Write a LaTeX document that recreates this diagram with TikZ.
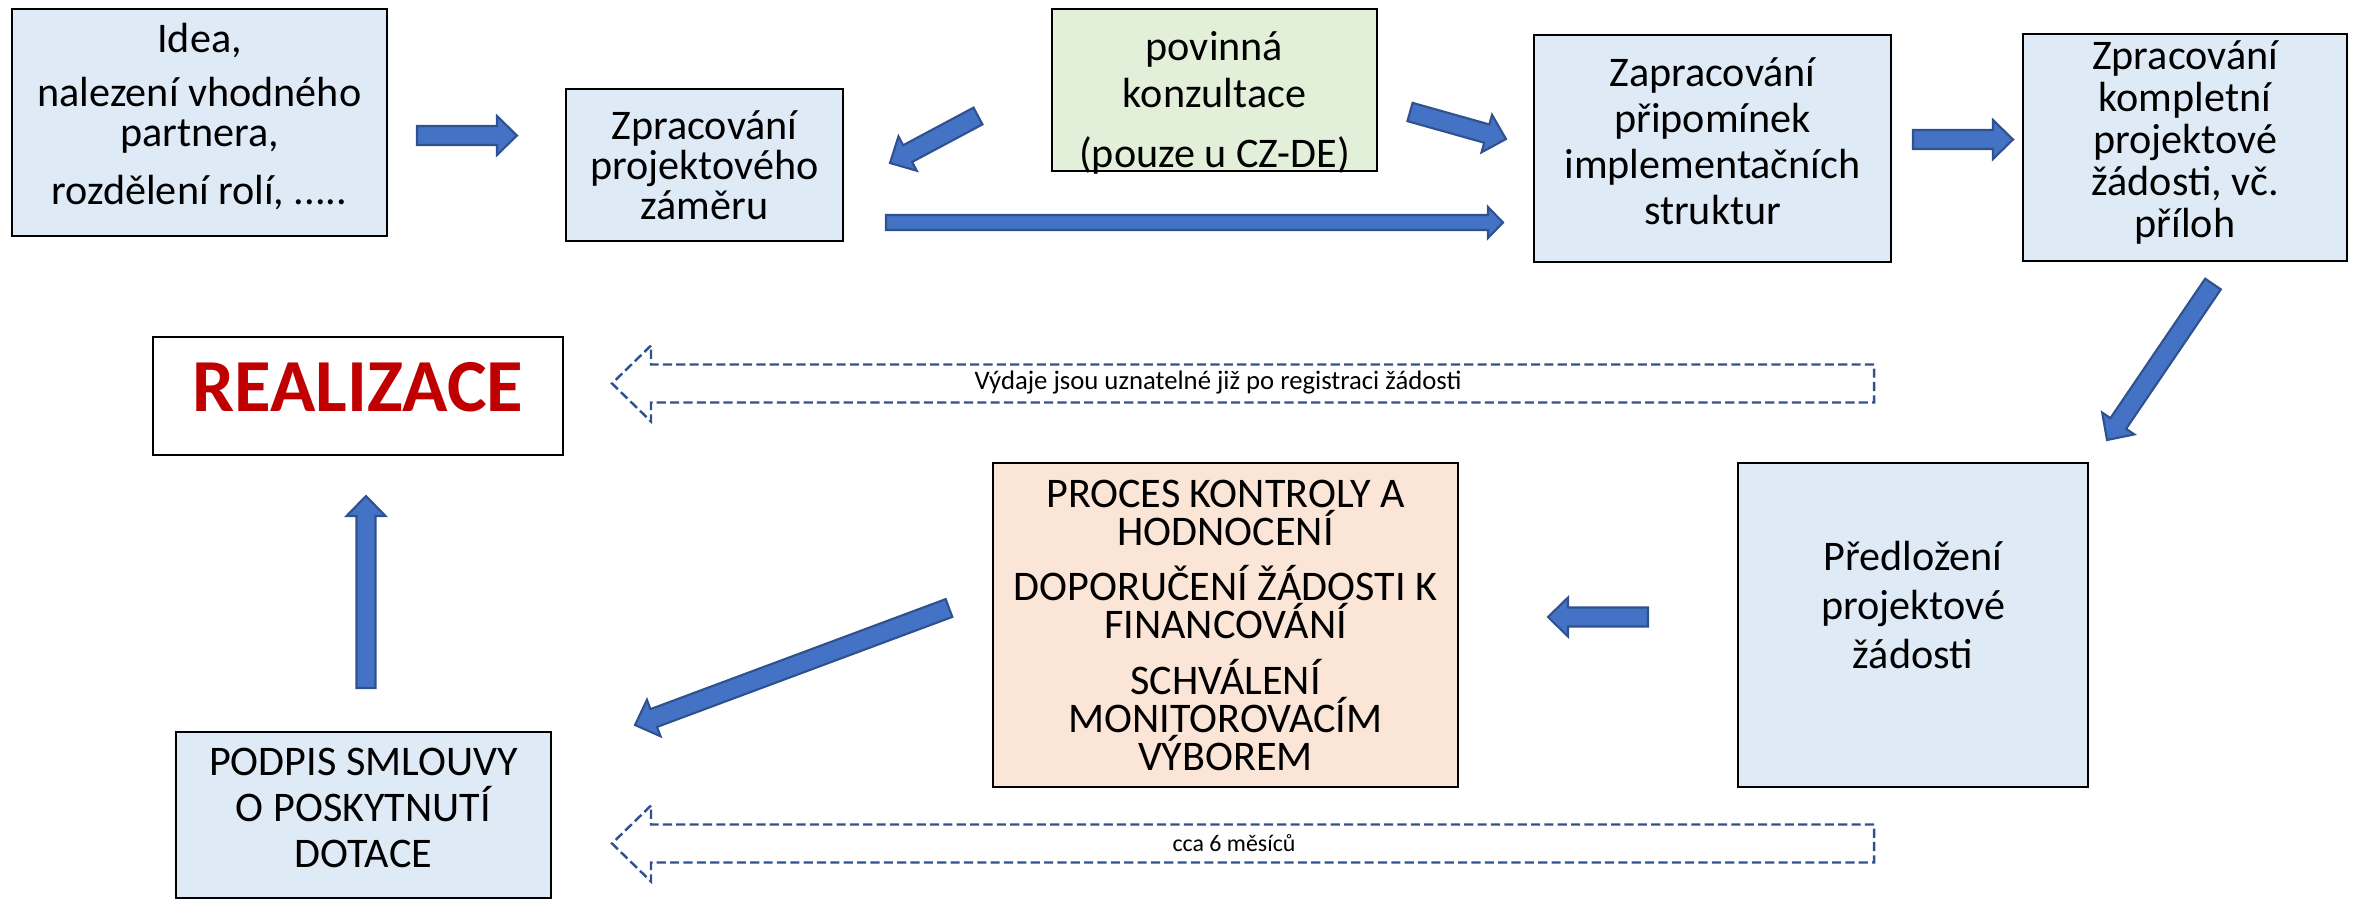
\documentclass[tikz,border=0pt]{standalone}
\usepackage{fontspec}
\setmainfont{Carlito}
\usetikzlibrary{calc,positioning}

\definecolor{boxblue}{HTML}{DEEBF7}
\definecolor{boxgreen}{HTML}{E2F0D9}
\definecolor{boxpeach}{HTML}{FBE5D6}
\definecolor{arrowblue}{HTML}{4472C4}
\definecolor{arrowedge}{HTML}{2F528F}
\definecolor{realred}{HTML}{C00000}

\tikzset{
  shaft half/.store in=\shaftw, shaft half=0.095cm,
  head half/.store in=\headw, head half=0.195cm,
  head len/.store in=\headl, head len=0.20cm,
}
% fat block arrow from #2 to #3 (named coordinates)
\newcommand{\BlockArrow}[3][]{%
  \begin{scope}[#1]
    \coordinate (hb) at ($(#3)!\headl!(#2)$);
    \draw[blockarrow] ($(#2)!\shaftw!90:(#3)$) -- ($(hb)!\shaftw!90:(#3)$)
      -- ($(hb)!\headw!90:(#3)$) -- (#3) -- ($(hb)!\headw!-90:(#3)$)
      -- ($(hb)!\shaftw!-90:(#3)$) -- ($(#2)!\shaftw!-90:(#3)$) -- cycle;
  \end{scope}}

\begin{document}
\begin{tikzpicture}[
    box/.style={draw=black, line width=0.8pt, fill=boxblue, align=center, inner sep=0pt,
      font=\fontsize{12}{11.4}\selectfont},
    blockarrow/.style={fill=arrowblue, draw=arrowedge, line width=0.6pt, line join=miter},
    dasharrow/.style={draw=arrowedge, line width=0.7pt, dash pattern=on 2.6pt off 1.2pt},
  ]
  \useasboundingbox (0,0) rectangle (23.56,9.02);

  % top row
  \node[box, minimum width=3.75cm, minimum height=2.27cm, text depth=0.17cm] (idea) at (1.995,7.795)
    {Idea,\\[4pt] nalezení vhodného\\ partnera,\\[5pt] rozdělení rolí, .....};
  \node[box, minimum width=2.77cm, minimum height=1.52cm] (zamer) at (7.045,7.37)
    {Zpracování\\ projektového\\ záměru};
  \node[box, fill=boxgreen, minimum width=3.25cm, minimum height=1.62cm,
    text depth=0cm, text height=44pt,
    font=\fontsize{12}{13.4}\selectfont] (konz) at (12.145,8.12)
    {povinná\\ konzultace\\[3.5pt] (pouze u CZ-DE)};
  \node[box, minimum width=3.57cm, minimum height=2.27cm, text depth=0.14cm,
    font=\fontsize{12}{13.1}\selectfont] (pripom) at (17.125,7.535)
    {Zapracování\\ připomínek\\ implementačních\\ struktur};
  \node[box, minimum width=3.24cm, minimum height=2.27cm, text depth=0.17cm,
    font=\fontsize{12}{11.9}\selectfont] (kompl) at (21.85,7.545)
    {Zpracování\\ kompletní\\ projektové\\ žádosti, vč.\\ příloh};

  % lower rows
  \node[box, fill=white, minimum width=4.10cm, minimum height=1.18cm, text depth=0.18cm,
    font=\fontsize{21.3}{25}\selectfont\bfseries, text=realred] (real) at (3.58,5.06)
    {REALIZACE};
  \node[box, fill=boxpeach, minimum width=4.65cm, minimum height=3.24cm,
    font=\fontsize{12}{10.8}\selectfont] (proces) at (12.255,2.77)
    {PROCES KONTROLY A\\ HODNOCENÍ\\[5pt] DOPORUČENÍ ŽÁDOSTI K\\ FINANCOVÁNÍ\\[5pt]
     SCHVÁLENÍ\\ MONITOROVACÍM\\ VÝBOREM};
  \node[box, minimum width=3.50cm, minimum height=3.24cm, text depth=0.40cm,
    font=\fontsize{12}{13.9}\selectfont] (predl) at (19.13,2.77)
    {Předložení\\ projektové\\ žádosti};
  \node[box, minimum width=3.75cm, minimum height=1.66cm, text depth=0.14cm,
    font=\fontsize{12}{13.1}\selectfont] (podpis) at (3.635,0.87)
    {PODPIS SMLOUVY\\ O POSKYTNUTÍ\\ DOTACE};

  % arrow ends
  \coordinate (idea-r) at (4.17,7.665);   \coordinate (zamer-l) at (5.17,7.665);
  \coordinate (konz-l) at (9.78,7.86);    \coordinate (zamer-r) at (8.90,7.39);
  \coordinate (zamer-b) at (8.86,6.795);  \coordinate (pripom-l) at (15.03,6.795);
  \coordinate (konz-r) at (14.10,7.90);   \coordinate (pripom-t) at (15.06,7.63);
  \coordinate (pripom-r) at (19.13,7.625); \coordinate (kompl-l) at (20.13,7.625);
  \coordinate (kompl-b) at (22.13,6.18);  \coordinate (predl-t) at (21.07,4.62);
  \coordinate (predl-l) at (16.48,2.85);  \coordinate (proces-r) at (15.48,2.85);
  \coordinate (proces-l) at (9.49,2.94);  \coordinate (podpis-r) at (6.35,1.77);
  \coordinate (podpis-t) at (3.66,2.14);  \coordinate (real-b) at (3.66,4.06);

  \BlockArrow{idea-r}{zamer-l}
  \BlockArrow{konz-l}{zamer-r}
  \BlockArrow[shaft half=0.075cm, head half=0.155cm, head len=0.15cm]{zamer-b}{pripom-l}
  \BlockArrow{konz-r}{pripom-t}
  \BlockArrow{pripom-r}{kompl-l}
  \BlockArrow{kompl-b}{predl-t}
  \BlockArrow{predl-l}{proces-r}
  \BlockArrow{proces-l}{podpis-r}
  \BlockArrow{podpis-t}{real-b}

  % dashed time arrows
  \foreach \yc in {5.185,0.585}
    \draw[dasharrow] (18.74,{\yc+0.19}) -- (6.51,{\yc+0.19}) -- (6.51,{\yc+0.38})
      -- (6.12,\yc) -- (6.51,{\yc-0.38}) -- (6.51,{\yc-0.19}) -- (18.74,{\yc-0.19}) -- cycle;
  \node[font=\fontsize{7.6}{9}\selectfont] (regnote) at (12.18,5.19)
    {Výdaje jsou uznatelné již po registraci žádosti};
  \node[font=\fontsize{6.8}{8}\selectfont] (timenote) at (12.34,0.59) {cca 6 měsíců};
\end{tikzpicture}
\end{document}
